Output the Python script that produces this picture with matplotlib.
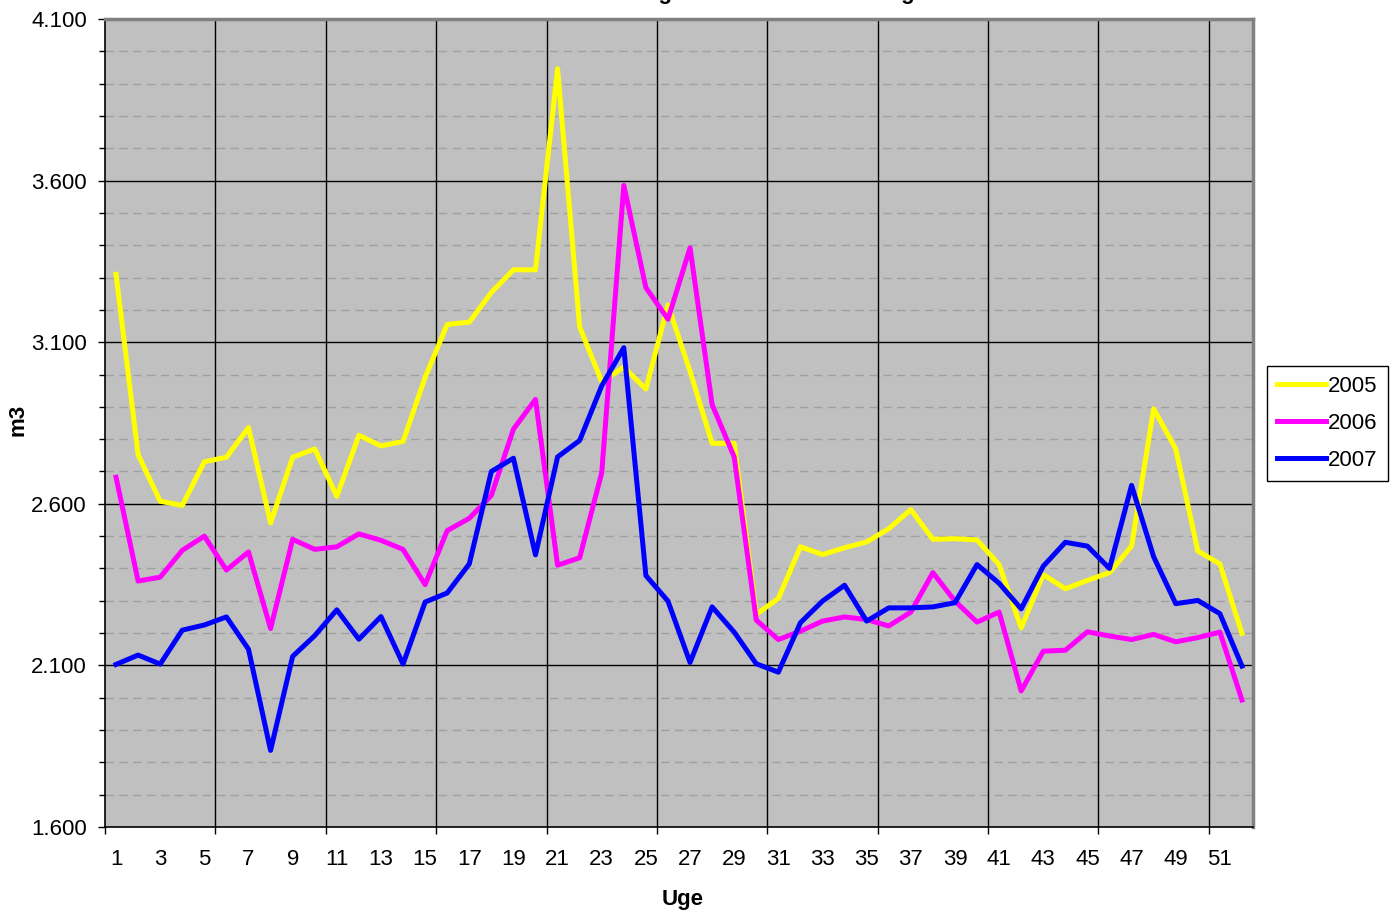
import numpy as np
import matplotlib
matplotlib.use('Agg')
import matplotlib.pyplot as plt
from matplotlib.ticker import FixedLocator, FuncFormatter, NullFormatter

plt.rcParams['font.family'] = ['Liberation Sans', 'DejaVu Sans']

# weekly values, m3
weeks = np.arange(1, 53)
y2005 = [3310, 2752, 2608, 2595, 2730, 2744, 2836, 2541, 2744, 2770,
         2623, 2812, 2779, 2793, 2991, 3155, 3162, 3254, 3324, 3324,
         3946, 3147, 2978, 3023, 2955, 3215, 3010, 2787, 2787, 2258,
         2307, 2467, 2443, 2464, 2482, 2523, 2582, 2490, 2492, 2488,
         2412, 2216, 2381, 2337, 2363, 2387, 2469, 2894, 2770, 2454,
         2414, 2199]
y2006 = [2682, 2361, 2373, 2456, 2500, 2395, 2451, 2214, 2490, 2459,
         2467, 2507, 2487, 2459, 2350, 2517, 2555, 2626, 2831, 2923,
         2410, 2433, 2696, 3585, 3269, 3171, 3392, 2907, 2745, 2240,
         2180, 2206, 2237, 2250, 2242, 2222, 2265, 2387, 2299, 2234,
         2265, 2021, 2144, 2147, 2204, 2191, 2180, 2196, 2173, 2186,
         2203, 1993]
y2007 = [2103, 2132, 2104, 2209, 2225, 2250, 2150, 1837, 2128, 2192,
         2272, 2181, 2251, 2104, 2296, 2324, 2414, 2700, 2741, 2442,
         2745, 2796, 2965, 3083, 2378, 2299, 2109, 2281, 2203, 2105,
         2079, 2232, 2299, 2348, 2237, 2278, 2278, 2281, 2294, 2412,
         2354, 2275, 2407, 2481, 2469, 2400, 2657, 2436, 2291, 2301,
         2260, 2098]
series = [('2005', y2005, '#FFFF00'), ('2006', y2006, '#FF00FF'), ('2007', y2007, '#0000FF')]

fig = plt.figure(figsize=(13.93, 9.16), dpi=100)
ax = fig.add_axes([105/1393, 1-827/916, (1253-105)/1393, (827-19)/916])
ax.set_facecolor('#C0C0C0')

for name, vals, col in series:
    ax.plot(weeks, vals, color=col, lw=3.6, label=name, solid_joinstyle='round', zorder=3)

ax.set_xlim(0.5, 52.5)
ax.set_ylim(1600, 4100)

# y axis
ax.yaxis.set_major_locator(FixedLocator(np.arange(1600, 4101, 500)))
ax.yaxis.set_minor_locator(FixedLocator(np.arange(1600, 4101, 100)))
ax.yaxis.set_major_formatter(FuncFormatter(lambda v, p: f'{v:,.0f}'.replace(',', '.')))
ax.tick_params(axis='y', which='major', length=5, width=1, pad=8, labelsize=16)
ax.tick_params(axis='y', which='minor', length=4, width=1)

# x axis: ticks on week boundaries, labels on odd weeks
ax.xaxis.set_major_locator(FixedLocator(np.arange(0.5, 53, 5)))
ax.xaxis.set_major_formatter(NullFormatter())
ax.xaxis.set_minor_locator(FixedLocator(np.arange(1, 53, 2)))
ax.xaxis.set_minor_formatter(FuncFormatter(lambda v, p: f'{int(round(v))}'))
ax.tick_params(axis='x', which='major', length=5, width=1)
ax.tick_params(axis='x', which='minor', length=0, pad=16, labelsize=16)

# grid
for yv in np.arange(1700, 4100, 100):
    if (yv - 1600) % 500:
        ax.axhline(yv, color='#A0A0A0', lw=1, ls=(0, (6, 4)), zorder=1)
for yv in np.arange(2100, 4100, 500):
    ax.axhline(yv, color='#000000', lw=1, zorder=2)
for xv in np.arange(5.5, 52, 5):
    ax.axvline(xv, color='#000000', lw=1, zorder=2)

for side in ['top', 'right']:
    ax.spines[side].set_color('#808080')
    ax.spines[side].set_linewidth(2.5)
for side in ['left', 'bottom']:
    ax.spines[side].set_color('#000000')
    ax.spines[side].set_linewidth(1.2)

fig.text(18/1393, 1-420/916, 'm3', rotation=90, ha='center', va='center',
         fontsize=16, fontweight='bold')
fig.text(683/1393, 1-899/916, 'Uge', ha='center', va='center',
         fontsize=16, fontweight='bold')
# title sits mostly above the top edge, as in the source picture
fig.text(733/1393, 1+1/916, 'Vandforbrug i m3 for hver enkelt uge', ha='center',
         va='baseline', fontsize=16, fontweight='bold')

leg = ax.legend(loc='upper left', bbox_to_anchor=(1267/1393, 1-366/916),
                bbox_transform=fig.transFigure, borderaxespad=0, fontsize=16,
                handlelength=2.2, handletextpad=0.1, labelspacing=0.72,
                borderpad=0.45, fancybox=False, framealpha=1, edgecolor='#000000')
leg.get_frame().set_linewidth(1)

fig.savefig('out.png', dpi=100)
